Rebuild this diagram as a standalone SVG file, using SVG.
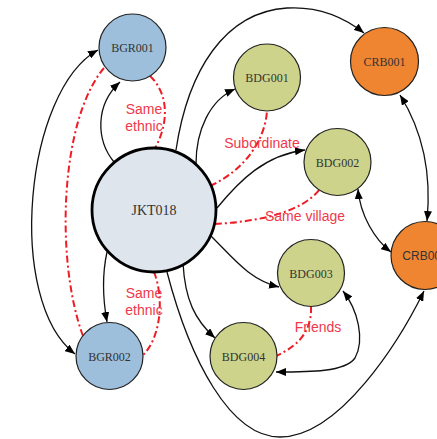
<svg xmlns="http://www.w3.org/2000/svg" width="437" height="439" viewBox="0 0 437 439">
  <style>
    .edge { fill: none; stroke: #111; stroke-width: 1.3; }
    .rel { fill: none; stroke: #ee1c25; stroke-width: 2; stroke-dasharray: 7 3 2 3; }
    .node { stroke: #222; stroke-width: 1.2; }
    .bgr { fill: #9dbfdb; }
    .bdg { fill: #cdd38b; }
    .crb { fill: #ef8530; }
    .hub { fill: #dfe5ec; stroke: #000; stroke-width: 2.8; }
    .lbl { font-family: "Liberation Serif", "Times New Roman", serif; font-size: 12px; fill: #333; text-anchor: middle; }
    .rlbl { font-family: "Liberation Sans", Arial, sans-serif; font-size: 14px; fill: #f0384a; text-anchor: middle; }
  </style>
  <defs>
    <marker id="arr" viewBox="0 0 10 8" refX="10" refY="4" markerWidth="10" markerHeight="8" markerUnits="userSpaceOnUse" orient="auto-start-reverse">
      <path d="M0,0 L10,4 L0,8 Z" fill="#000"/>
    </marker>
  </defs>

  <g id="connectors">
    <!-- directed ties -->
    <path class="edge" d="M114,162 C96,140 95,105 120,82" marker-end="url(#arr)"/>
    <path class="edge" d="M107,252 C102,275 103,300 107,322" marker-end="url(#arr)"/>
    <path class="edge" d="M98,50 C25,90 5,300 75,354" marker-start="url(#arr)" marker-end="url(#arr)"/>
    <path class="edge" d="M176,150 C188,70 225,12 287,8 C320,6 345,18 364,33" marker-end="url(#arr)"/>
    <path class="edge" d="M196,164 C196,130 210,100 235,89" marker-end="url(#arr)"/>
    <path class="edge" d="M217,208 C240,180 265,155 305,150" marker-end="url(#arr)"/>
    <path class="edge" d="M211,236 C235,260 250,280 279,287" marker-end="url(#arr)"/>
    <path class="edge" d="M183,263 C185,300 195,320 215,338" marker-end="url(#arr)"/>
    <path class="edge" d="M167,272 C190,360 230,437 280,437 C340,437 400,340 424,291" marker-end="url(#arr)"/>
    <path class="edge" d="M343,291 C358,310 365,340 355,358 C345,372 310,372 276,372" marker-start="url(#arr)" marker-end="url(#arr)"/>
    <path class="edge" d="M400,95 C422,130 432,170 427,221" marker-start="url(#arr)" marker-end="url(#arr)"/>
    <path class="edge" d="M358,189 C360,215 375,240 391,252" marker-start="url(#arr)" marker-end="url(#arr)"/>

    <!-- relations -->
    <path class="rel" d="M150,76 C170,95 168,125 155,148"/>
    <path class="rel" d="M104,68 C60,120 55,260 83,336"/>
    <path class="rel" d="M154,272 C165,300 160,340 142,356"/>
    <path class="rel" d="M210,186 C245,170 265,140 267,111"/>
    <path class="rel" d="M215,224 C250,222 300,215 320,189"/>
    <path class="rel" d="M311,306 C312,330 300,345 276,356"/>

    <text class="rlbl" x="144" y="114">Same</text>
    <text class="rlbl" x="144" y="131">ethnic</text>
    <text class="rlbl" x="144" y="298">Same</text>
    <text class="rlbl" x="144" y="315">ethnic</text>
    <text class="rlbl" x="262" y="148">Subordinate</text>
    <text class="rlbl" x="305" y="221">Same village</text>
    <text class="rlbl" x="318" y="332">Friends</text>
  </g>

  <g id="JKT018">
    <circle class="hub" cx="154" cy="210" r="62"/>
    <text class="lbl" x="154" y="215" style="font-size:14px">JKT018</text>
  </g>
  <g id="BGR001">
    <circle class="node bgr" cx="132.5" cy="47.5" r="33.5"/>
    <text class="lbl" x="132.5" y="52">BGR001</text>
  </g>
  <g id="BGR002">
    <circle class="node bgr" cx="109.5" cy="356" r="33.5"/>
    <text class="lbl" x="109.5" y="360.5">BGR002</text>
  </g>
  <g id="BDG001">
    <circle class="node bdg" cx="267" cy="77.5" r="33.5"/>
    <text class="lbl" x="267" y="82">BDG001</text>
  </g>
  <g id="BDG002">
    <circle class="node bdg" cx="337.5" cy="162" r="33.5"/>
    <text class="lbl" x="337.5" y="166.5">BDG002</text>
  </g>
  <g id="BDG003">
    <circle class="node bdg" cx="311" cy="273" r="33.5"/>
    <text class="lbl" x="311" y="277.5">BDG003</text>
  </g>
  <g id="BDG004">
    <circle class="node bdg" cx="243.5" cy="356" r="33.5"/>
    <text class="lbl" x="243.5" y="360.5">BDG004</text>
  </g>
  <g id="CRB001">
    <circle class="node crb" cx="384.5" cy="61.5" r="34"/>
    <text class="lbl" x="384.5" y="66">CRB001</text>
  </g>
  <g id="CRB002">
    <circle class="node crb" cx="425" cy="255.5" r="34"/>
    <text class="lbl" x="425" y="260" style="font-family:'Liberation Sans', Arial, sans-serif">CRB002</text>
  </g>
</svg>
